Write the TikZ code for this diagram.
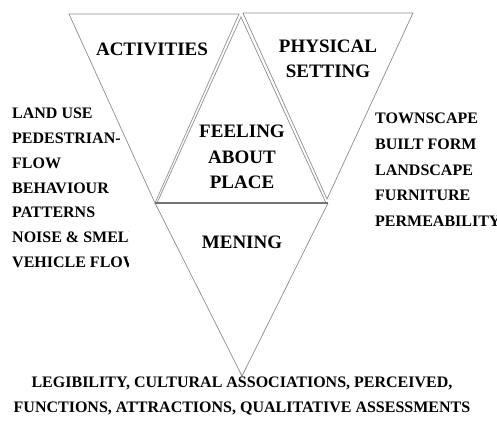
\documentclass[tikz,border=0pt]{standalone}
\usepackage{fontspec}
\setmainfont{Liberation Serif}
\usepackage{tikz}

\begin{document}
\begin{tikzpicture}[x=1pt,y=-1pt,
  tri/.style={draw=black!45,line width=0.7pt,line join=miter},
  head/.style={font=\fontsize{19}{25.5}\selectfont\bfseries,align=center,inner sep=0pt},
  lst/.style={font=\fontsize{16}{24.8}\selectfont\bfseries,align=left,inner sep=0pt,anchor=north west}]
\useasboundingbox (0,0) rectangle (497,426);
% triangles
\draw[tri] (69,14)--(239,14)--(155,203)--cycle;
\draw[tri] (243,13)--(413,13)--(327,199)--cycle;
\draw[tri] (241,17)--(157,203)--(326,203)--cycle;
\draw[tri] (155,203)--(242,376)--(328,203);
\draw[draw=black!55,line width=1.5pt] (155,203)--(328,203);
\path (152,55) node(act)[head,anchor=base]{ACTIVITIES}
(328,59) node(phys)[head]{PHYSICAL\\SETTING}
(242,157) node(feel)[head]{FEELING\\ABOUT\\PLACE}
(242,248) node(men)[head,anchor=base]{MENING}
(375,113) node(town)[lst,font=\fontsize{16}{25.7}\selectfont\bfseries]{TOWNSCAPE\\BUILT FORM\\LANDSCAPE\\FURNITURE\\PERMEABILITY}
(242,377) node(leg)[lst,anchor=north,align=center]{LEGIBILITY, CULTURAL ASSOCIATIONS, PERCEIVED,\\FUNCTIONS, ATTRACTIONS, QUALITATIVE ASSESSMENTS};
\begin{scope}
\clip (0,90) rectangle (128,290);
\path (12,108) node(land)[lst]{LAND USE\\PEDESTRIAN-\\FLOW\\BEHAVIOUR\\PATTERNS\\NOISE \& SMELL\\VEHICLE FLOW};
\end{scope}
\end{tikzpicture}
\end{document}
